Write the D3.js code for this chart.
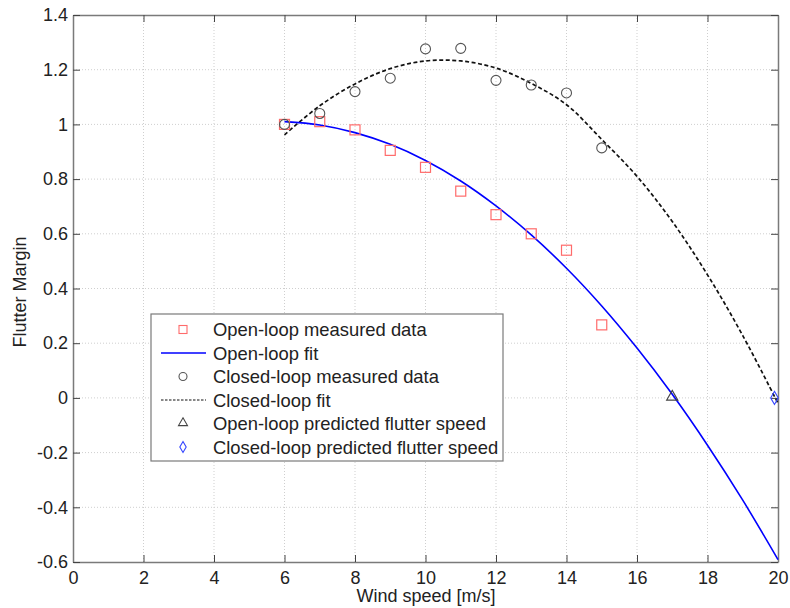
<!DOCTYPE html>
<html>
<head>
<meta charset="utf-8">
<script src="https://cdn.jsdelivr.net/npm/d3@7"></script>
<style>
  body { margin: 0; background: #fff; }
  text { font-family: "Liberation Sans", Arial, sans-serif; fill: #222; }
</style>
</head>
<body>
<div id="chart"></div>
<script>
var svgWidth = 790;
var svgHeight = 608;

var margin = { top: 15, right: 12, bottom: 46, left: 73 };
var width = svgWidth - margin.left - margin.right;
var height = svgHeight - margin.top - margin.bottom;

// Data
var speeds = [6, 7, 8, 9, 10, 11, 12, 13, 14, 15];
var openMeasured = [1.0, 1.01, 0.98, 0.905, 0.843, 0.756, 0.67, 0.6, 0.54, 0.267];
var closedMeasured = [1.0, 1.04, 1.12, 1.169, 1.276, 1.278, 1.161, 1.144, 1.115, 0.914];

var fitSpeeds = [6, 7, 8, 9, 10, 11, 12, 13, 14, 15, 16, 17, 18, 19, 20];
var openFit = [1.01, 0.998, 0.97, 0.927, 0.868, 0.793, 0.702, 0.596, 0.474, 0.336, 0.182, 0.013, -0.173, -0.374, -0.591];
var closedFit = [0.962, 1.068, 1.148, 1.204, 1.232, 1.232, 1.206, 1.15, 1.072, 0.945, 0.81, 0.645, 0.45, 0.228, -0.02];

var openFlutter = [17.0, 0];
var closedFlutter = [19.9, 0];

var xTicks = [0, 2, 4, 6, 8, 10, 12, 14, 16, 18, 20];
var yTicks = [-0.6, -0.4, -0.2, 0, 0.2, 0.4, 0.6, 0.8, 1, 1.2, 1.4];

var legendLabels = [
  "Open-loop measured data",
  "Open-loop fit",
  "Closed-loop measured data",
  "Closed-loop fit",
  "Open-loop predicted flutter speed",
  "Closed-loop predicted flutter speed"
];

var svg = d3.select("#chart")
  .append("svg")
  .attr("width", svgWidth)
  .attr("height", svgHeight);

var chartGroup = svg.append("g")
  .attr("transform", `translate(${margin.left}, ${margin.top})`);

var xScale = d3.scaleLinear().domain([0, 20]).range([0, width]);
var yScale = d3.scaleLinear().domain([-0.6, 1.4]).range([height, 0]);

// grid
chartGroup.append("g")
  .selectAll("line")
  .data(xTicks.slice(1, -1))
  .enter()
  .append("line")
  .attr("x1", d => xScale(d)).attr("x2", d => xScale(d))
  .attr("y1", 0).attr("y2", height)
  .attr("stroke", "#cfcfcf")
  .attr("stroke-dasharray", "1,2");

chartGroup.append("g")
  .selectAll("line")
  .data(yTicks.slice(1, -1))
  .enter()
  .append("line")
  .attr("y1", d => yScale(d)).attr("y2", d => yScale(d))
  .attr("x1", 0).attr("x2", width)
  .attr("stroke", "#cfcfcf")
  .attr("stroke-dasharray", "1,2");

// axes
var fmt = d => String(+d.toFixed(1));

var bottomAxis = d3.axisBottom(xScale).tickValues(xTicks).tickSizeInner(-7).tickSizeOuter(0).tickPadding(9).tickFormat(fmt);
var topAxis = d3.axisTop(xScale).tickValues(xTicks).tickSizeInner(-7).tickSizeOuter(0).tickFormat("");
var leftAxis = d3.axisLeft(yScale).tickValues(yTicks).tickSizeInner(-7).tickSizeOuter(0).tickPadding(5).tickFormat(fmt);
var rightAxis = d3.axisRight(yScale).tickValues(yTicks).tickSizeInner(-7).tickSizeOuter(0).tickFormat("");

[
  chartGroup.append("g").attr("transform", `translate(0, ${height})`).call(bottomAxis),
  chartGroup.append("g").call(topAxis),
  chartGroup.append("g").call(leftAxis),
  chartGroup.append("g").attr("transform", `translate(${width}, 0)`).call(rightAxis)
].forEach(function(g) {
  g.selectAll("path").attr("stroke", "#7a7a7a").attr("stroke-width", 1.5);
  g.selectAll("line").attr("stroke", "#444");
  g.selectAll("text")
    .style("font-family", "'Liberation Sans', Arial, sans-serif")
    .style("font-size", "18px")
    .attr("fill", "#222");
});

// fit lines
var line = d3.line()
  .x(d => xScale(d[0]))
  .y(d => yScale(d[1]))
  .curve(d3.curveCatmullRom);

chartGroup.append("path")
  .datum(fitSpeeds.map((s, i) => [s, closedFit[i]]))
  .attr("d", line)
  .attr("fill", "none")
  .attr("stroke", "#111")
  .attr("stroke-width", 1.7)
  .attr("stroke-dasharray", "4,2.5");

chartGroup.append("path")
  .datum(fitSpeeds.map((s, i) => [s, openFit[i]]))
  .attr("d", line)
  .attr("fill", "none")
  .attr("stroke", "#0000ff")
  .attr("stroke-width", 1.6);

// measured data
chartGroup.append("g")
  .selectAll("rect")
  .data(speeds.map((s, i) => [s, openMeasured[i]]))
  .enter()
  .append("rect")
  .attr("x", d => xScale(d[0]) - 5)
  .attr("y", d => yScale(d[1]) - 5)
  .attr("width", 10)
  .attr("height", 10)
  .attr("fill", "none")
  .attr("stroke", "#ff6b6b")
  .attr("stroke-width", 1.2);

chartGroup.append("g")
  .selectAll("circle")
  .data(speeds.map((s, i) => [s, closedMeasured[i]]))
  .enter()
  .append("circle")
  .attr("cx", d => xScale(d[0]))
  .attr("cy", d => yScale(d[1]))
  .attr("r", 5)
  .attr("fill", "none")
  .attr("stroke", "#555")
  .attr("stroke-width", 1.1);

// predicted flutter speeds
var tri = d3.symbol().type(d3.symbolTriangle).size(55);
var dia = d3.symbol().type(d3.symbolDiamond).size(50);

chartGroup.append("path")
  .attr("d", tri)
  .attr("transform", `translate(${xScale(openFlutter[0])}, ${yScale(openFlutter[1]) - 1})`)
  .attr("fill", "none")
  .attr("stroke", "#444")
  .attr("stroke-width", 1.1);

chartGroup.append("path")
  .attr("d", dia)
  .attr("transform", `translate(${xScale(closedFlutter[0])}, ${yScale(closedFlutter[1])})`)
  .attr("fill", "none")
  .attr("stroke", "#3344ff")
  .attr("stroke-width", 1.1);

// axis labels
svg.append("text")
  .attr("x", 426)
  .attr("y", 602)
  .attr("text-anchor", "middle")
  .style("font-size", "18px")
  .text("Wind speed [m/s]");

svg.append("text")
  .attr("transform", "rotate(-90)")
  .attr("x", -292)
  .attr("y", 26)
  .attr("text-anchor", "middle")
  .style("font-size", "18px")
  .text("Flutter Margin");

// legend
var legend = svg.append("g").attr("transform", "translate(151, 314)");
legend.append("rect")
  .attr("width", 352)
  .attr("height", 147)
  .attr("fill", "#fff")
  .attr("stroke", "#7a7a7a")
  .attr("stroke-width", 1.2);

var rowY = i => 15.5 + i * 23.5;

legend.selectAll("text")
  .data(legendLabels)
  .enter()
  .append("text")
  .attr("x", 62)
  .attr("y", (d, i) => rowY(i) + 6.5)
  .style("font-size", "18.4px")
  .text(d => d);

legend.append("rect")
  .attr("x", 28).attr("y", rowY(0) - 4)
  .attr("width", 8).attr("height", 8)
  .attr("fill", "none").attr("stroke", "#ff6b6b").attr("stroke-width", 1.1);
legend.append("line")
  .attr("x1", 10).attr("x2", 55).attr("y1", rowY(1)).attr("y2", rowY(1))
  .attr("stroke", "#0000ff").attr("stroke-width", 1.6);
legend.append("circle")
  .attr("cx", 32).attr("cy", rowY(2)).attr("r", 4)
  .attr("fill", "none").attr("stroke", "#555").attr("stroke-width", 1.1);
legend.append("line")
  .attr("x1", 10).attr("x2", 55).attr("y1", rowY(3)).attr("y2", rowY(3))
  .attr("stroke", "#111").attr("stroke-width", 1.1).attr("stroke-dasharray", "2.5,1.5");
legend.append("path")
  .attr("d", d3.symbol().type(d3.symbolTriangle).size(35))
  .attr("transform", `translate(32, ${rowY(4) - 0.5})`)
  .attr("fill", "none").attr("stroke", "#444").attr("stroke-width", 1.1);
legend.append("path")
  .attr("d", d3.symbol().type(d3.symbolDiamond).size(35))
  .attr("transform", `translate(32, ${rowY(5)})`)
  .attr("fill", "none").attr("stroke", "#3344ff").attr("stroke-width", 1.1);
</script>
</body>
</html>
